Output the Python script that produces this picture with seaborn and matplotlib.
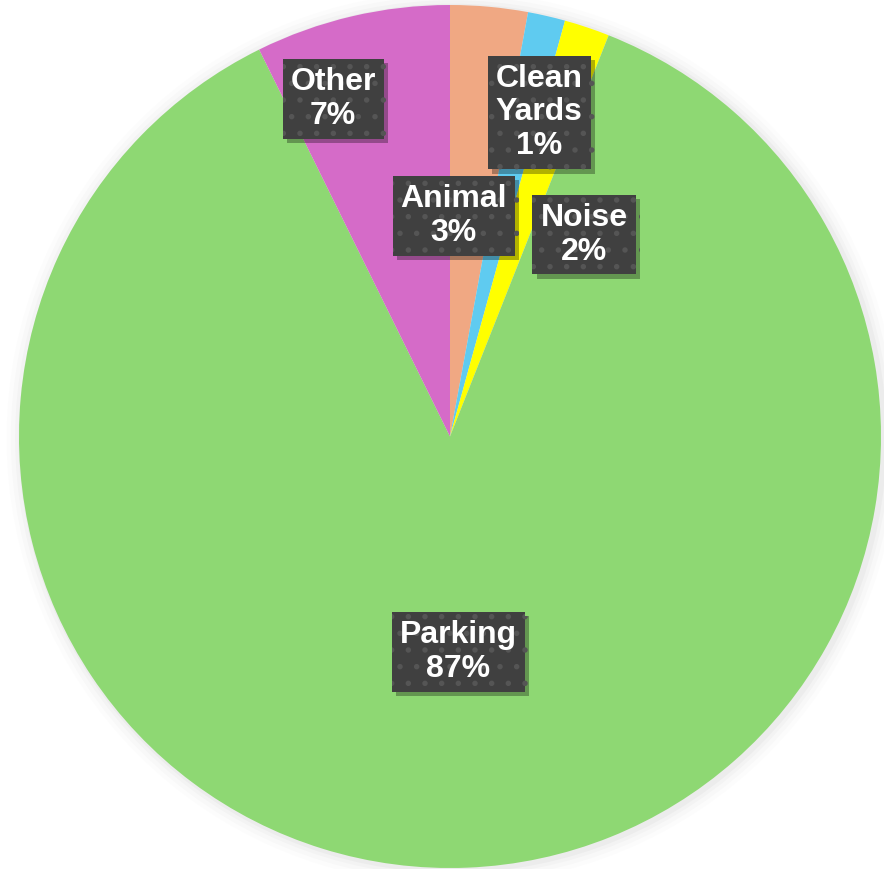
import matplotlib
matplotlib.use('Agg')
import matplotlib.pyplot as plt
import matplotlib.patheffects as pe
from matplotlib.patches import Circle
import seaborn as sns

# data (share of complaints)
categories = ['Animal', 'Clean\nYards', 'Noise', 'Parking', 'Other']
shares = [2.9, 1.4, 1.7, 86.7, 7.3]
colors = ['#F0A883', '#5FCBF0', '#FFFF00', '#8ED873', '#D56BC8']

sns.set_theme(style='white')
plt.rcParams['font.family'] = ['Liberation Sans', 'DejaVu Sans']
plt.rcParams['hatch.linewidth'] = 1.5

fig = plt.figure(figsize=(8.84, 8.69), dpi=100)
fig.patch.set_facecolor('white')
ax = fig.add_axes([19 / 884, 1 / 869, 862 / 884, 863 / 869])

# soft shadow round the pie
for r, a in [(1.035, 0.02), (1.025, 0.03), (1.015, 0.04), (1.007, 0.06)]:
    ax.add_patch(Circle((0.006, -0.004), r, color='#808080', alpha=a, lw=0,
                        zorder=0, clip_on=False))

wedges, _ = ax.pie(shares, colors=colors, startangle=90, counterclock=False,
                   radius=1, wedgeprops=dict(linewidth=0))
ax.set_xlim(-1, 1)
ax.set_ylim(-1, 1)
ax.set_aspect('auto')
ax.axis('off')

# label centres, in pie radius units
label_pos = [(0.009, 0.512), (0.207, 0.751), (0.311, 0.468),
             (0.019, -0.50), (-0.271, 0.783)]

for name, val, (x, y) in zip(categories, shares, label_pos):
    t = ax.text(x, y, f"{name}\n{round(val):.0f}%", ha='center', va='center',
                fontsize=23, fontweight='bold', color='white',
                linespacing=1.17, zorder=5,
                bbox=dict(boxstyle='square,pad=0.25', facecolor='#404040',
                          edgecolor='#555555', linewidth=0, hatch='.'))
    t.get_bbox_patch().set_path_effects([
        pe.SimplePatchShadow(offset=(3, -3), shadow_rgbFace='#000000', alpha=0.3),
        pe.Normal()])

fig.savefig('out.png', dpi=100)
